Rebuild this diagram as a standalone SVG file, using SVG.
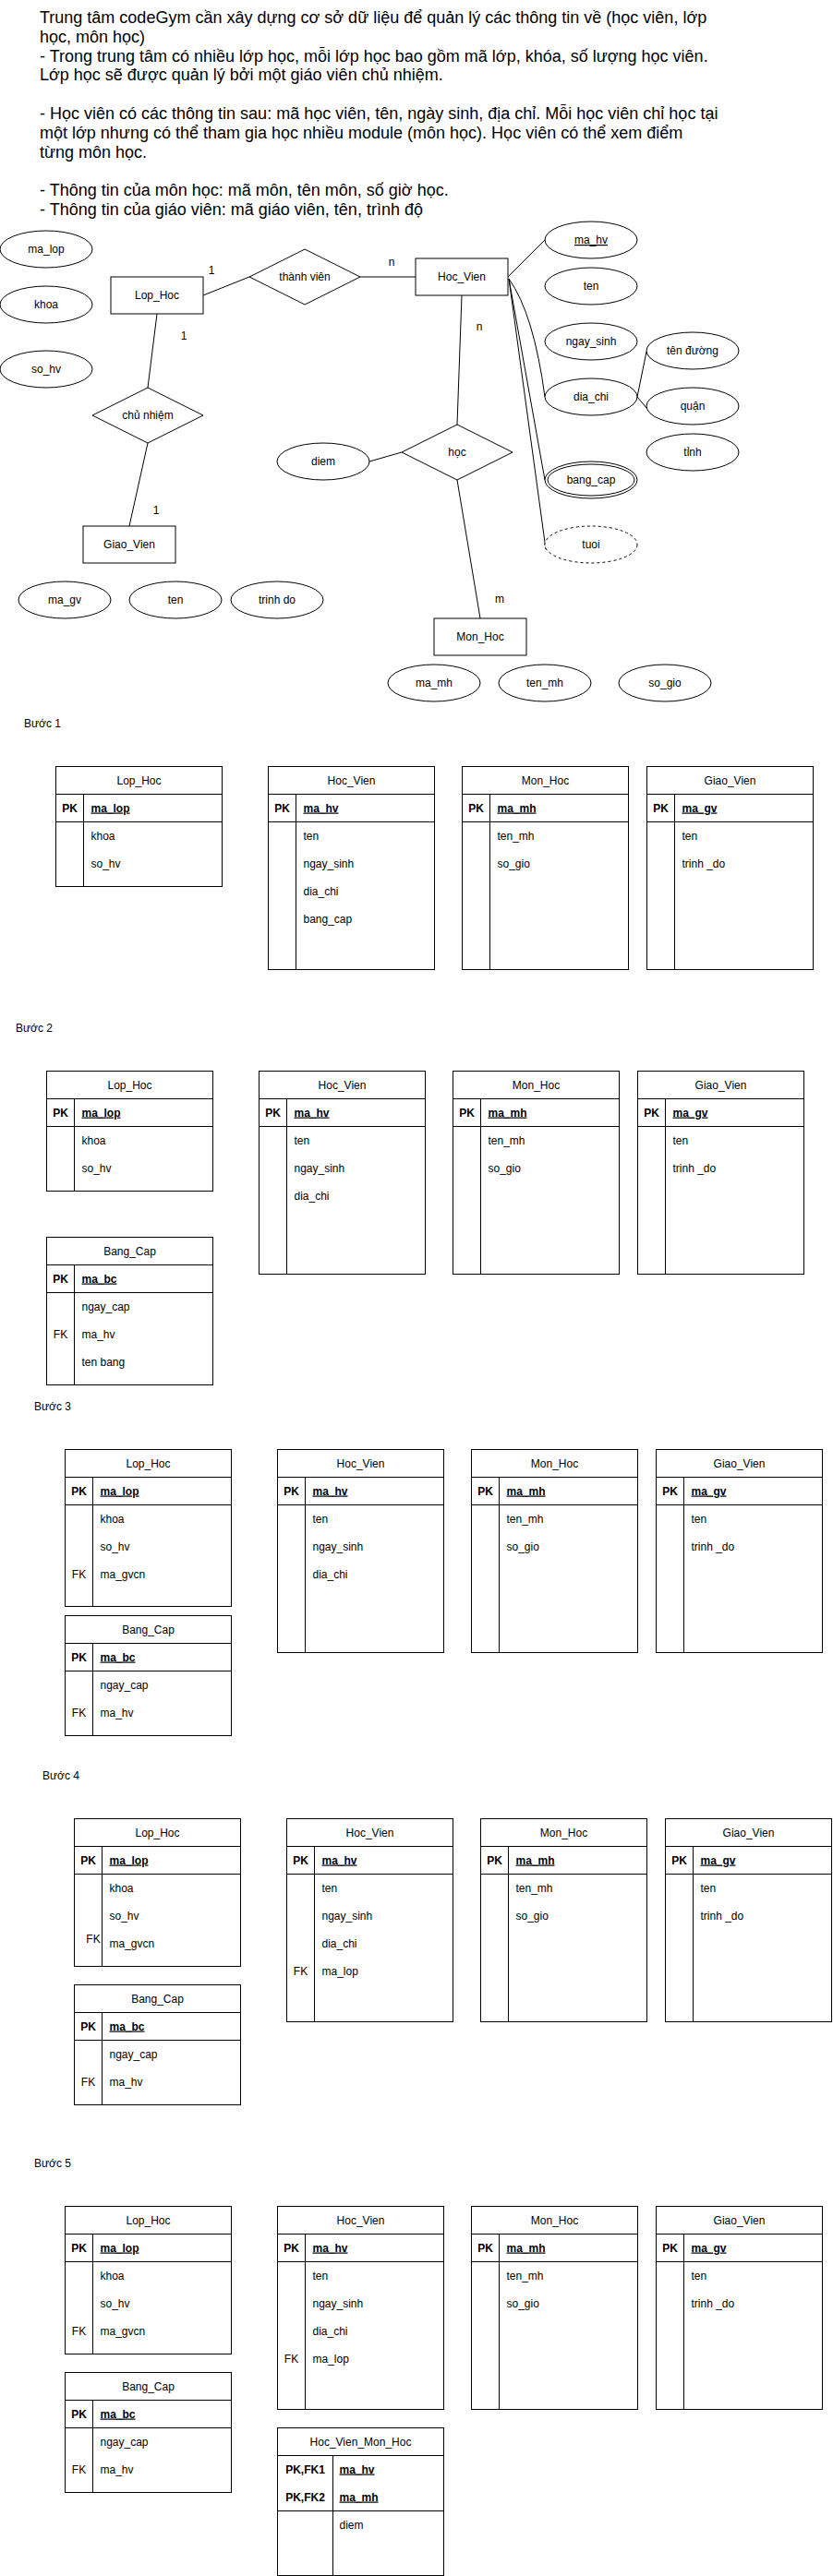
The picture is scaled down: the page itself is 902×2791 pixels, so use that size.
<svg xmlns="http://www.w3.org/2000/svg" width="902" height="2791" viewBox="0 0 902 2791">
<style>
text{font-family:"Liberation Sans",Arial,Helvetica,sans-serif;font-size:12px;fill:#000}
.c{text-anchor:middle}
.b{font-weight:bold}
.u{text-decoration:underline}
.intro{font-size:18px}
.sh{fill:#fff;stroke:#000;stroke-width:1}
.ln{fill:none;stroke:#000;stroke-width:1}
.tb rect{fill:#fff;stroke:#000;stroke-width:1}
.tb line{stroke:#000;stroke-width:1}
</style>
<rect width="902" height="2791" fill="#fff"/>

<g id="intro-text">
<text class="intro" x="43" y="25">Trung tâm codeGym cần xây dựng cơ sở dữ liệu để quản lý các thông tin về (học viên, lớp</text>
<text class="intro" x="43" y="45.8">học, môn học)</text>
<text class="intro" x="43" y="66.6">- Trong trung tâm có nhiều lớp học, mỗi lớp học bao gồm mã lớp, khóa, số lượng học viên.</text>
<text class="intro" x="43" y="87.4">Lớp học sẽ được quản lý bởi một giáo viên chủ nhiệm.</text>
<text class="intro" x="43" y="129">- Học viên có các thông tin sau: mã học viên, tên, ngày sinh, địa chỉ. Mỗi học viên chỉ học tại</text>
<text class="intro" x="43" y="149.8">một lớp nhưng có thể tham gia học nhiều module (môn học). Học viên có thể xem điểm</text>
<text class="intro" x="43" y="170.6">từng môn học.</text>
<text class="intro" x="43" y="212.2">- Thông tin của môn học: mã môn, tên môn, số giờ học.</text>
<text class="intro" x="43" y="233">- Thông tin của giáo viên: mã giáo viên, tên, trình độ</text>
</g>

<g id="er-connectors">
<path class="ln" d="M220,320 L270,300"/>
<path class="ln" d="M390,300 L450,300"/>
<path class="ln" d="M170,340 L160,420"/>
<path class="ln" d="M160,480 L140,570"/>
<path class="ln" d="M500,320 L495,460"/>
<path class="ln" d="M495,520 L520,670"/>
<path class="ln" d="M400,500 L435,490"/>
<path class="ln" d="M550,300 L590,260"/>
<path class="ln" d="M551,302 Q578,340 590,430"/>
<path class="ln" d="M551,302 L590,520"/>
<path class="ln" d="M551,302 L591,595"/>
<path class="ln" d="M690,430 L700,381"/>
<path class="ln" d="M690,430 L706,449"/>
<text class="c" x="229" y="297">1</text>
<text class="c" x="424" y="288">n</text>
<text class="c" x="199" y="368">1</text>
<text class="c" x="169" y="557">1</text>
<text class="c" x="519" y="358">n</text>
<text class="c" x="541" y="653">m</text>
</g>

<g id="er-ma_lop"><ellipse class="sh" cx="50" cy="270" rx="50" ry="20"/><text class="c" x="50" y="274">ma_lop</text></g>
<g id="er-khoa"><ellipse class="sh" cx="50" cy="330" rx="50" ry="20"/><text class="c" x="50" y="334">khoa</text></g>
<g id="er-so_hv"><ellipse class="sh" cx="50" cy="400" rx="50" ry="20"/><text class="c" x="50" y="404">so_hv</text></g>
<g id="er-lop_hoc"><rect class="sh" x="120" y="300" width="100" height="40"/><text class="c" x="170" y="324">Lop_Hoc</text></g>
<g id="er-thanh_vien"><polygon class="sh" points="270,300 330,270 390,300 330,330"/><text class="c" x="330" y="304">thành viên</text></g>
<g id="er-hoc_vien"><rect class="sh" x="450" y="280" width="100" height="40"/><text class="c" x="500" y="304">Hoc_Vien</text></g>
<g id="er-chu_nhiem"><polygon class="sh" points="100,450 160,420 220,450 160,480"/><text class="c" x="160" y="454">chủ nhiệm</text></g>
<g id="er-giao_vien"><rect class="sh" x="90" y="570" width="100" height="40"/><text class="c" x="140" y="594">Giao_Vien</text></g>
<g id="er-ma_gv"><ellipse class="sh" cx="70" cy="650" rx="50" ry="20"/><text class="c" x="70" y="654">ma_gv</text></g>
<g id="er-ten_gv"><ellipse class="sh" cx="190" cy="650" rx="50" ry="20"/><text class="c" x="190" y="654">ten</text></g>
<g id="er-trinh_do"><ellipse class="sh" cx="300" cy="650" rx="50" ry="20"/><text class="c" x="300" y="654">trinh do</text></g>
<g id="er-diem"><ellipse class="sh" cx="350" cy="500" rx="50" ry="20"/><text class="c" x="350" y="504">diem</text></g>
<g id="er-hoc"><polygon class="sh" points="435,490 495,460 555,490 495,520"/><text class="c" x="495" y="494">học</text></g>
<g id="er-mon_hoc"><rect class="sh" x="470" y="670" width="100" height="40"/><text class="c" x="520" y="694">Mon_Hoc</text></g>
<g id="er-ma_mh"><ellipse class="sh" cx="470" cy="740" rx="50" ry="20"/><text class="c" x="470" y="744">ma_mh</text></g>
<g id="er-ten_mh"><ellipse class="sh" cx="590" cy="740" rx="50" ry="20"/><text class="c" x="590" y="744">ten_mh</text></g>
<g id="er-so_gio"><ellipse class="sh" cx="720" cy="740" rx="50" ry="20"/><text class="c" x="720" y="744">so_gio</text></g>
<g id="er-ma_hv"><ellipse class="sh" cx="640" cy="260" rx="50" ry="20"/><text class="c u" x="640" y="264">ma_hv</text></g>
<g id="er-ten_hv"><ellipse class="sh" cx="640" cy="310" rx="50" ry="20"/><text class="c" x="640" y="314">ten</text></g>
<g id="er-ngay_sinh"><ellipse class="sh" cx="640" cy="370" rx="50" ry="20"/><text class="c" x="640" y="374">ngay_sinh</text></g>
<g id="er-dia_chi"><ellipse class="sh" cx="640" cy="430" rx="50" ry="20"/><text class="c" x="640" y="434">dia_chi</text></g>
<g id="er-ten_duong"><ellipse class="sh" cx="750" cy="380" rx="50" ry="20"/><text class="c" x="750" y="384">tên đường</text></g>
<g id="er-quan"><ellipse class="sh" cx="750" cy="440" rx="50" ry="20"/><text class="c" x="750" y="444">quận</text></g>
<g id="er-tinh"><ellipse class="sh" cx="750" cy="490" rx="50" ry="20"/><text class="c" x="750" y="494">tỉnh</text></g>
<g id="er-bang_cap"><ellipse class="sh" cx="640" cy="520" rx="50" ry="20"/><ellipse class="sh" cx="640" cy="520" rx="47" ry="17"/><text class="c" x="640" y="524">bang_cap</text></g>
<g id="er-tuoi"><ellipse class="sh" cx="640" cy="590" rx="50" ry="20" stroke-dasharray="3 3"/><text class="c" x="640" y="594">tuoi</text></g>

<!-- Step 1 -->
<text id="label-buoc1" x="26" y="788">Bước 1</text>
<g id="s1-lop_hoc" class="tb" transform="translate(60.5,830.5)">
<rect width="180" height="130"/><line x1="0" y1="30" x2="180" y2="30"/><line x1="0" y1="60" x2="180" y2="60"/><line x1="30" y1="30" x2="30" y2="130"/>
<text class="c" x="90" y="19">Lop_Hoc</text><text class="c b" x="15" y="49">PK</text><text class="b u" x="38" y="49">ma_lop</text>
<text x="38" y="79">khoa</text><text x="38" y="109">so_hv</text></g>
<g id="s1-hoc_vien" class="tb" transform="translate(290.5,830.5)">
<rect width="180" height="220"/><line x1="0" y1="30" x2="180" y2="30"/><line x1="0" y1="60" x2="180" y2="60"/><line x1="30" y1="30" x2="30" y2="220"/>
<text class="c" x="90" y="19">Hoc_Vien</text><text class="c b" x="15" y="49">PK</text><text class="b u" x="38" y="49">ma_hv</text>
<text x="38" y="79">ten</text><text x="38" y="109">ngay_sinh</text><text x="38" y="139">dia_chi</text><text x="38" y="169">bang_cap</text></g>
<g id="s1-mon_hoc" class="tb" transform="translate(500.5,830.5)">
<rect width="180" height="220"/><line x1="0" y1="30" x2="180" y2="30"/><line x1="0" y1="60" x2="180" y2="60"/><line x1="30" y1="30" x2="30" y2="220"/>
<text class="c" x="90" y="19">Mon_Hoc</text><text class="c b" x="15" y="49">PK</text><text class="b u" x="38" y="49">ma_mh</text>
<text x="38" y="79">ten_mh</text><text x="38" y="109">so_gio</text></g>
<g id="s1-giao_vien" class="tb" transform="translate(700.5,830.5)">
<rect width="180" height="220"/><line x1="0" y1="30" x2="180" y2="30"/><line x1="0" y1="60" x2="180" y2="60"/><line x1="30" y1="30" x2="30" y2="220"/>
<text class="c" x="90" y="19">Giao_Vien</text><text class="c b" x="15" y="49">PK</text><text class="b u" x="38" y="49">ma_gv</text>
<text x="38" y="79">ten</text><text x="38" y="109">trinh _do</text></g>

<!-- Step 2 -->
<text id="label-buoc2" x="17" y="1118">Bước 2</text>
<g id="s2-lop_hoc" class="tb" transform="translate(50.5,1160.5)">
<rect width="180" height="130"/><line x1="0" y1="30" x2="180" y2="30"/><line x1="0" y1="60" x2="180" y2="60"/><line x1="30" y1="30" x2="30" y2="130"/>
<text class="c" x="90" y="19">Lop_Hoc</text><text class="c b" x="15" y="49">PK</text><text class="b u" x="38" y="49">ma_lop</text>
<text x="38" y="79">khoa</text><text x="38" y="109">so_hv</text></g>
<g id="s2-hoc_vien" class="tb" transform="translate(280.5,1160.5)">
<rect width="180" height="220"/><line x1="0" y1="30" x2="180" y2="30"/><line x1="0" y1="60" x2="180" y2="60"/><line x1="30" y1="30" x2="30" y2="220"/>
<text class="c" x="90" y="19">Hoc_Vien</text><text class="c b" x="15" y="49">PK</text><text class="b u" x="38" y="49">ma_hv</text>
<text x="38" y="79">ten</text><text x="38" y="109">ngay_sinh</text><text x="38" y="139">dia_chi</text></g>
<g id="s2-mon_hoc" class="tb" transform="translate(490.5,1160.5)">
<rect width="180" height="220"/><line x1="0" y1="30" x2="180" y2="30"/><line x1="0" y1="60" x2="180" y2="60"/><line x1="30" y1="30" x2="30" y2="220"/>
<text class="c" x="90" y="19">Mon_Hoc</text><text class="c b" x="15" y="49">PK</text><text class="b u" x="38" y="49">ma_mh</text>
<text x="38" y="79">ten_mh</text><text x="38" y="109">so_gio</text></g>
<g id="s2-giao_vien" class="tb" transform="translate(690.5,1160.5)">
<rect width="180" height="220"/><line x1="0" y1="30" x2="180" y2="30"/><line x1="0" y1="60" x2="180" y2="60"/><line x1="30" y1="30" x2="30" y2="220"/>
<text class="c" x="90" y="19">Giao_Vien</text><text class="c b" x="15" y="49">PK</text><text class="b u" x="38" y="49">ma_gv</text>
<text x="38" y="79">ten</text><text x="38" y="109">trinh _do</text></g>
<g id="s2-bang_cap" class="tb" transform="translate(50.5,1340.5)">
<rect width="180" height="160"/><line x1="0" y1="30" x2="180" y2="30"/><line x1="0" y1="60" x2="180" y2="60"/><line x1="30" y1="30" x2="30" y2="160"/>
<text class="c" x="90" y="19">Bang_Cap</text><text class="c b" x="15" y="49">PK</text><text class="b u" x="38" y="49">ma_bc</text>
<text x="38" y="79">ngay_cap</text><text class="c" x="15" y="109">FK</text><text x="38" y="109">ma_hv</text><text x="38" y="139">ten bang</text></g>

<!-- Step 3 -->
<text id="label-buoc3" x="37" y="1528">Bước 3</text>
<g id="s3-lop_hoc" class="tb" transform="translate(70.5,1570.5)">
<rect width="180" height="170"/><line x1="0" y1="30" x2="180" y2="30"/><line x1="0" y1="60" x2="180" y2="60"/><line x1="30" y1="30" x2="30" y2="170"/>
<text class="c" x="90" y="19">Lop_Hoc</text><text class="c b" x="15" y="49">PK</text><text class="b u" x="38" y="49">ma_lop</text>
<text x="38" y="79">khoa</text><text x="38" y="109">so_hv</text><text class="c" x="15" y="139">FK</text><text x="38" y="139">ma_gvcn</text></g>
<g id="s3-bang_cap" class="tb" transform="translate(70.5,1750.5)">
<rect width="180" height="130"/><line x1="0" y1="30" x2="180" y2="30"/><line x1="0" y1="60" x2="180" y2="60"/><line x1="30" y1="30" x2="30" y2="130"/>
<text class="c" x="90" y="19">Bang_Cap</text><text class="c b" x="15" y="49">PK</text><text class="b u" x="38" y="49">ma_bc</text>
<text x="38" y="79">ngay_cap</text><text class="c" x="15" y="109">FK</text><text x="38" y="109">ma_hv</text></g>
<g id="s3-hoc_vien" class="tb" transform="translate(300.5,1570.5)">
<rect width="180" height="220"/><line x1="0" y1="30" x2="180" y2="30"/><line x1="0" y1="60" x2="180" y2="60"/><line x1="30" y1="30" x2="30" y2="220"/>
<text class="c" x="90" y="19">Hoc_Vien</text><text class="c b" x="15" y="49">PK</text><text class="b u" x="38" y="49">ma_hv</text>
<text x="38" y="79">ten</text><text x="38" y="109">ngay_sinh</text><text x="38" y="139">dia_chi</text></g>
<g id="s3-mon_hoc" class="tb" transform="translate(510.5,1570.5)">
<rect width="180" height="220"/><line x1="0" y1="30" x2="180" y2="30"/><line x1="0" y1="60" x2="180" y2="60"/><line x1="30" y1="30" x2="30" y2="220"/>
<text class="c" x="90" y="19">Mon_Hoc</text><text class="c b" x="15" y="49">PK</text><text class="b u" x="38" y="49">ma_mh</text>
<text x="38" y="79">ten_mh</text><text x="38" y="109">so_gio</text></g>
<g id="s3-giao_vien" class="tb" transform="translate(710.5,1570.5)">
<rect width="180" height="220"/><line x1="0" y1="30" x2="180" y2="30"/><line x1="0" y1="60" x2="180" y2="60"/><line x1="30" y1="30" x2="30" y2="220"/>
<text class="c" x="90" y="19">Giao_Vien</text><text class="c b" x="15" y="49">PK</text><text class="b u" x="38" y="49">ma_gv</text>
<text x="38" y="79">ten</text><text x="38" y="109">trinh _do</text></g>

<!-- Step 4 -->
<text id="label-buoc4" x="46" y="1928">Bước 4</text>
<g id="s4-lop_hoc" class="tb" transform="translate(80.5,1970.5)">
<rect width="180" height="160"/><line x1="0" y1="30" x2="180" y2="30"/><line x1="0" y1="60" x2="180" y2="60"/><line x1="30" y1="30" x2="30" y2="160"/>
<text class="c" x="90" y="19">Lop_Hoc</text><text class="c b" x="15" y="49">PK</text><text class="b u" x="38" y="49">ma_lop</text>
<text x="38" y="79">khoa</text><text x="38" y="109">so_hv</text><text class="c" x="20.5" y="134.5">FK</text><text x="38" y="139">ma_gvcn</text></g>
<g id="s4-bang_cap" class="tb" transform="translate(80.5,2150.5)">
<rect width="180" height="130"/><line x1="0" y1="30" x2="180" y2="30"/><line x1="0" y1="60" x2="180" y2="60"/><line x1="30" y1="30" x2="30" y2="130"/>
<text class="c" x="90" y="19">Bang_Cap</text><text class="c b" x="15" y="49">PK</text><text class="b u" x="38" y="49">ma_bc</text>
<text x="38" y="79">ngay_cap</text><text class="c" x="15" y="109">FK</text><text x="38" y="109">ma_hv</text></g>
<g id="s4-hoc_vien" class="tb" transform="translate(310.5,1970.5)">
<rect width="180" height="220"/><line x1="0" y1="30" x2="180" y2="30"/><line x1="0" y1="60" x2="180" y2="60"/><line x1="30" y1="30" x2="30" y2="220"/>
<text class="c" x="90" y="19">Hoc_Vien</text><text class="c b" x="15" y="49">PK</text><text class="b u" x="38" y="49">ma_hv</text>
<text x="38" y="79">ten</text><text x="38" y="109">ngay_sinh</text><text x="38" y="139">dia_chi</text><text class="c" x="15" y="169">FK</text><text x="38" y="169">ma_lop</text></g>
<g id="s4-mon_hoc" class="tb" transform="translate(520.5,1970.5)">
<rect width="180" height="220"/><line x1="0" y1="30" x2="180" y2="30"/><line x1="0" y1="60" x2="180" y2="60"/><line x1="30" y1="30" x2="30" y2="220"/>
<text class="c" x="90" y="19">Mon_Hoc</text><text class="c b" x="15" y="49">PK</text><text class="b u" x="38" y="49">ma_mh</text>
<text x="38" y="79">ten_mh</text><text x="38" y="109">so_gio</text></g>
<g id="s4-giao_vien" class="tb" transform="translate(720.5,1970.5)">
<rect width="180" height="220"/><line x1="0" y1="30" x2="180" y2="30"/><line x1="0" y1="60" x2="180" y2="60"/><line x1="30" y1="30" x2="30" y2="220"/>
<text class="c" x="90" y="19">Giao_Vien</text><text class="c b" x="15" y="49">PK</text><text class="b u" x="38" y="49">ma_gv</text>
<text x="38" y="79">ten</text><text x="38" y="109">trinh _do</text></g>

<!-- Step 5 -->
<text id="label-buoc5" x="37" y="2348">Bước 5</text>
<g id="s5-lop_hoc" class="tb" transform="translate(70.5,2390.5)">
<rect width="180" height="160"/><line x1="0" y1="30" x2="180" y2="30"/><line x1="0" y1="60" x2="180" y2="60"/><line x1="30" y1="30" x2="30" y2="160"/>
<text class="c" x="90" y="19">Lop_Hoc</text><text class="c b" x="15" y="49">PK</text><text class="b u" x="38" y="49">ma_lop</text>
<text x="38" y="79">khoa</text><text x="38" y="109">so_hv</text><text class="c" x="15" y="139">FK</text><text x="38" y="139">ma_gvcn</text></g>
<g id="s5-bang_cap" class="tb" transform="translate(70.5,2570.5)">
<rect width="180" height="130"/><line x1="0" y1="30" x2="180" y2="30"/><line x1="0" y1="60" x2="180" y2="60"/><line x1="30" y1="30" x2="30" y2="130"/>
<text class="c" x="90" y="19">Bang_Cap</text><text class="c b" x="15" y="49">PK</text><text class="b u" x="38" y="49">ma_bc</text>
<text x="38" y="79">ngay_cap</text><text class="c" x="15" y="109">FK</text><text x="38" y="109">ma_hv</text></g>
<g id="s5-hoc_vien" class="tb" transform="translate(300.5,2390.5)">
<rect width="180" height="220"/><line x1="0" y1="30" x2="180" y2="30"/><line x1="0" y1="60" x2="180" y2="60"/><line x1="30" y1="30" x2="30" y2="220"/>
<text class="c" x="90" y="19">Hoc_Vien</text><text class="c b" x="15" y="49">PK</text><text class="b u" x="38" y="49">ma_hv</text>
<text x="38" y="79">ten</text><text x="38" y="109">ngay_sinh</text><text x="38" y="139">dia_chi</text><text class="c" x="15" y="169">FK</text><text x="38" y="169">ma_lop</text></g>
<g id="s5-mon_hoc" class="tb" transform="translate(510.5,2390.5)">
<rect width="180" height="220"/><line x1="0" y1="30" x2="180" y2="30"/><line x1="0" y1="60" x2="180" y2="60"/><line x1="30" y1="30" x2="30" y2="220"/>
<text class="c" x="90" y="19">Mon_Hoc</text><text class="c b" x="15" y="49">PK</text><text class="b u" x="38" y="49">ma_mh</text>
<text x="38" y="79">ten_mh</text><text x="38" y="109">so_gio</text></g>
<g id="s5-giao_vien" class="tb" transform="translate(710.5,2390.5)">
<rect width="180" height="220"/><line x1="0" y1="30" x2="180" y2="30"/><line x1="0" y1="60" x2="180" y2="60"/><line x1="30" y1="30" x2="30" y2="220"/>
<text class="c" x="90" y="19">Giao_Vien</text><text class="c b" x="15" y="49">PK</text><text class="b u" x="38" y="49">ma_gv</text>
<text x="38" y="79">ten</text><text x="38" y="109">trinh _do</text></g>
<g id="s5-hoc_vien_mon_hoc" class="tb" transform="translate(300.5,2630.5)">
<rect width="180" height="160"/><line x1="0" y1="30" x2="180" y2="30"/><line x1="0" y1="90" x2="180" y2="90"/><line x1="60" y1="30" x2="60" y2="160"/>
<text class="c" x="90" y="19">Hoc_Vien_Mon_Hoc</text>
<text class="c b" x="30" y="49">PK,FK1</text><text class="b u" x="67" y="49">ma_hv</text>
<text class="c b" x="30" y="79">PK,FK2</text><text class="b u" x="67" y="79">ma_mh</text>
<text x="67" y="109">diem</text></g>
</svg>
